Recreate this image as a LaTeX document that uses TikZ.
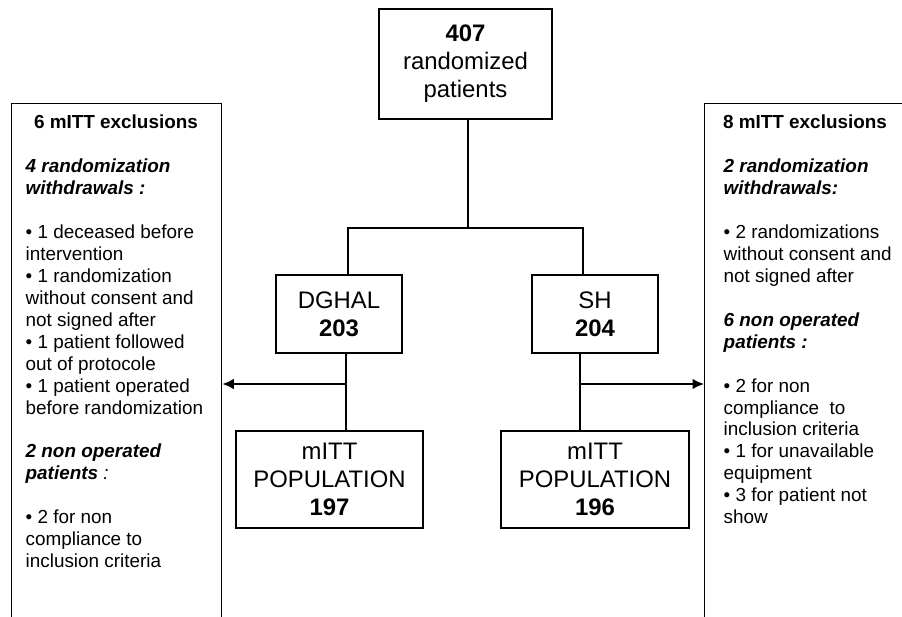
\documentclass[tikz,border=0pt]{standalone}
\usepackage{fontspec}
\setmainfont{Liberation Sans}
\usetikzlibrary{arrows.meta}

\begin{document}
\begin{tikzpicture}[
    line width=0.8pt,
    box/.style={draw, inner sep=0, align=center,
                font=\fontsize{13.6}{15.9}\selectfont},
    exclbox/.style={draw, inner sep=0, anchor=north west,
                    minimum width=4.2cm, minimum height=11.0cm},
    excltext/.style={anchor=north west, inner sep=0, align=left,
                     font=\fontsize{10.75}{12.5}\selectfont},
    exclhead/.style={inner sep=0, font=\fontsize{10.75}{12.5}\selectfont\bfseries},
    tip/.style={-{Latex[length=6.5pt, width=6pt]}}]
\useasboundingbox (0,0) rectangle (18.04,-12.32);

% randomization and arms
\node[box, minimum width=3.46cm, minimum height=2.20cm] (rand) at ( 9.31, -1.28)
    {\textbf{407}\\randomized\\patients};
\node[box, minimum width=2.52cm, minimum height=1.56cm] (dghal) at ( 6.78, -6.28)
    {DGHAL\\\textbf{203}};
\node[box, minimum width=2.52cm, minimum height=1.56cm] (sh) at (11.90, -6.28)
    {SH\\\textbf{204}};
\node[box, minimum width=3.74cm, minimum height=1.94cm] (mittL) at ( 6.59, -9.59)
    {mITT\\POPULATION\\\textbf{197}};
\node[box, minimum width=3.76cm, minimum height=1.94cm] (mittR) at (11.90, -9.59)
    {mITT\\POPULATION\\\textbf{196}};

\coordinate (fork)   at ( 9.36, -4.56);
\coordinate (splitL) at ( 6.92, -7.68);
\coordinate (splitR) at (11.60, -7.68);

\draw (rand.south -| fork) -- (fork);
\draw (6.96, -4.56 |- dghal.north) |- (fork) -| (11.66, -4.56 |- sh.north);
\draw (splitL |- dghal.south) -- (splitL |- mittL.north);
\draw (splitR |- sh.south) -- (splitR |- mittR.north);

% exclusions, left
\node[exclbox] (exclL) at ( 0.22, -2.06) {};
\node[exclhead] (exclLhead) at ( 2.32, -2.44) {6 mITT exclusions};
\node[excltext] (exclLtxt) at ( 0.50, -3.16)
    {\textbf{\textit{4 randomization}}\\
     \textbf{\textit{withdrawals :}}\\[12.5pt]
     • 1 deceased before\\
     intervention\\
     • 1 randomization\\
     without consent and\\
     not signed after\\
     • 1 patient followed\\
     out of protocole\\
     • 1 patient operated\\
     before randomization\\[12.5pt]
     \textbf{\textit{2 non operated}}\\
     \textbf{\textit{patients}}\textit{ :}\\[12.5pt]
     • 2 for non\\
     compliance to\\
     inclusion criteria};

% exclusions, right
\node[exclbox] (exclR) at (14.08, -2.06) {};
\node[exclhead] (exclRhead) at (16.10, -2.44) {8 mITT exclusions};
\node[excltext] (exclRtxt) at (14.46, -3.16)
    {\textbf{\textit{2 randomization}}\\
     \textbf{\textit{withdrawals:}}\\[12.5pt]
     • 2 randomizations\\
     without consent and\\
     not signed after\\[12.5pt]
     \textbf{\textit{6 non operated}}\\
     \textbf{\textit{patients :}}\\[12.5pt]
     • 2 for non\\
     compliance\ \ to\\
     inclusion criteria\\
     • 1 for unavailable\\
     equipment\\
     • 3 for patient not\\
     show};

\draw[tip] (splitL) -- (splitL -| exclL.east);
\draw[tip] (splitR) -- (splitR -| exclR.west);
\end{tikzpicture}
\end{document}
